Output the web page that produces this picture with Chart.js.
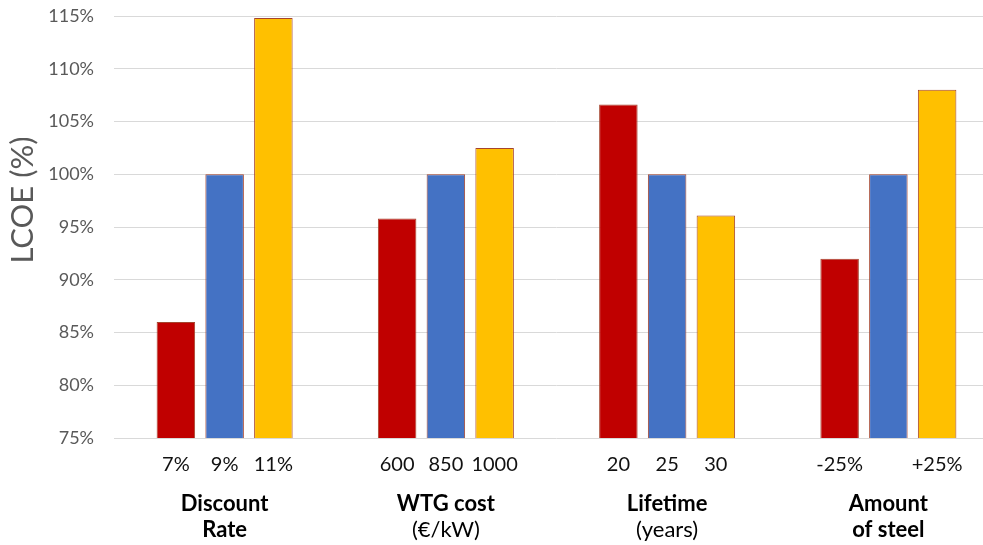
<!DOCTYPE html>
<html>
<head>
<meta charset="utf-8">
<title>LCOE sensitivity</title>
<script src="https://cdn.jsdelivr.net/npm/chart.js@4/dist/chart.umd.min.js"></script>
<style>
  html, body { margin: 0; padding: 0; background: #ffffff; overflow: hidden; }
  #wrap { width: 1000px; height: 545px; }
</style>
</head>
<body>
<div id="wrap"><canvas id="chart" width="1000" height="545"></canvas></div>
<script>
// Sensitivity parameters (one group per parameter)
const groupTitles = ["Discount", "WTG cost", "Lifetime", "Amount"];
const groupSubtitles = ["Rate", "(€/kW)", "(years)", "of steel"];
const subtitleBold = [true, false, false, true];

// Parameter settings shown under each bar
const lowLabels = ["7%", "600", "20", "-25%"];
const baseLabels = ["9%", "850", "25", ""];
const highLabels = ["11%", "1000", "30", "+25%"];

// LCOE relative to the base case (%)
const lowValues = [86.0, 95.8, 106.6, 92.0];
const baseValues = [100, 100, 100, 100];
const highValues = [114.8, 102.5, 96.1, 108.0];

// Y axis ticks
const yMin = 75, yMax = 115, yStep = 5;

Chart.defaults.font.family = "Lato, 'Open Sans', sans-serif";

const barLabelSets = [lowLabels, baseLabels, highLabels];

// Draws the parameter setting under each bar and the rotated y-axis title
const barLabelsPlugin = {
  id: 'barLabels',
  afterDraw(chart) {
    const ctx = chart.ctx;
    const area = chart.chartArea;
    ctx.save();
    ctx.font = "20px Lato, 'Open Sans', sans-serif";
    ctx.fillStyle = '#111111';
    ctx.textAlign = 'center';
    ctx.textBaseline = 'middle';
    barLabelSets.forEach((labels, di) => {
      const meta = chart.getDatasetMeta(di);
      meta.data.forEach((bar, i) => {
        if (labels[i]) ctx.fillText(labels[i], bar.x, area.bottom + 27);
      });
    });
    // y-axis title
    ctx.translate(23, 200);
    ctx.rotate(-Math.PI / 2);
    ctx.font = "31px Lato, 'Open Sans', sans-serif";
    ctx.fillStyle = '#595959';
    ctx.fillText('LCOE (%)', 0, 0);
    ctx.restore();
  }
};

const barBorder = '#A5442E';

new Chart(document.getElementById('chart'), {
  type: 'bar',
  data: {
    labels: groupTitles,
    datasets: [
      { label: 'Low', data: lowValues, backgroundColor: '#C00000', borderColor: barBorder, borderWidth: 1 },
      { label: 'Base', data: baseValues, backgroundColor: '#4472C4', borderColor: barBorder, borderWidth: 1 },
      { label: 'High', data: highValues, backgroundColor: '#FFC000', borderColor: barBorder, borderWidth: 1 }
    ]
  },
  options: {
    responsive: false,
    devicePixelRatio: 1,
    animation: false,
    layout: { padding: { top: 16, right: 1, bottom: 0, left: 0 } },
    datasets: {
      bar: { categoryPercentage: 0.661, barPercentage: 0.79 }
    },
    plugins: {
      legend: { display: false },
      tooltip: { enabled: false }
    },
    scales: {
      x: {
        type: 'category',
        offset: true,
        grid: { display: false, drawTicks: false, tickLength: 0 },
        border: { display: false },
        ticks: {
          padding: 53,
          color: '#000000',
          font: { size: 22, weight: 'bold' },
          maxRotation: 0,
          autoSkip: false
        },
        afterFit(scale) { scale.height = 79; }
      },
      x2: {
        type: 'category',
        position: 'bottom',
        labels: groupSubtitles,
        offset: true,
        weight: 1,
        grid: { display: false, drawTicks: false, tickLength: 0 },
        border: { display: false },
        ticks: {
          padding: 0,
          color: '#000000',
          font: (ctx) => ({ size: 22, weight: subtitleBold[ctx.index] ? 'bold' : 'normal' }),
          maxRotation: 0,
          autoSkip: false
        },
        afterFit(scale) { scale.height = 28; }
      },
      y: {
        min: yMin,
        max: yMax,
        grid: { color: '#D9D9D9', lineWidth: 1, drawTicks: false, tickLength: 0 },
        border: { display: false },
        ticks: {
          stepSize: yStep,
          padding: 20,
          color: '#595959',
          font: { size: 18 },
          callback: (v) => v + '%'
        },
        afterFit(scale) {
          scale.width = 114;
          scale.paddingTop = 0;
          scale.paddingBottom = 0;
        }
      }
    }
  },
  plugins: [barLabelsPlugin]
});
</script>
</body>
</html>
